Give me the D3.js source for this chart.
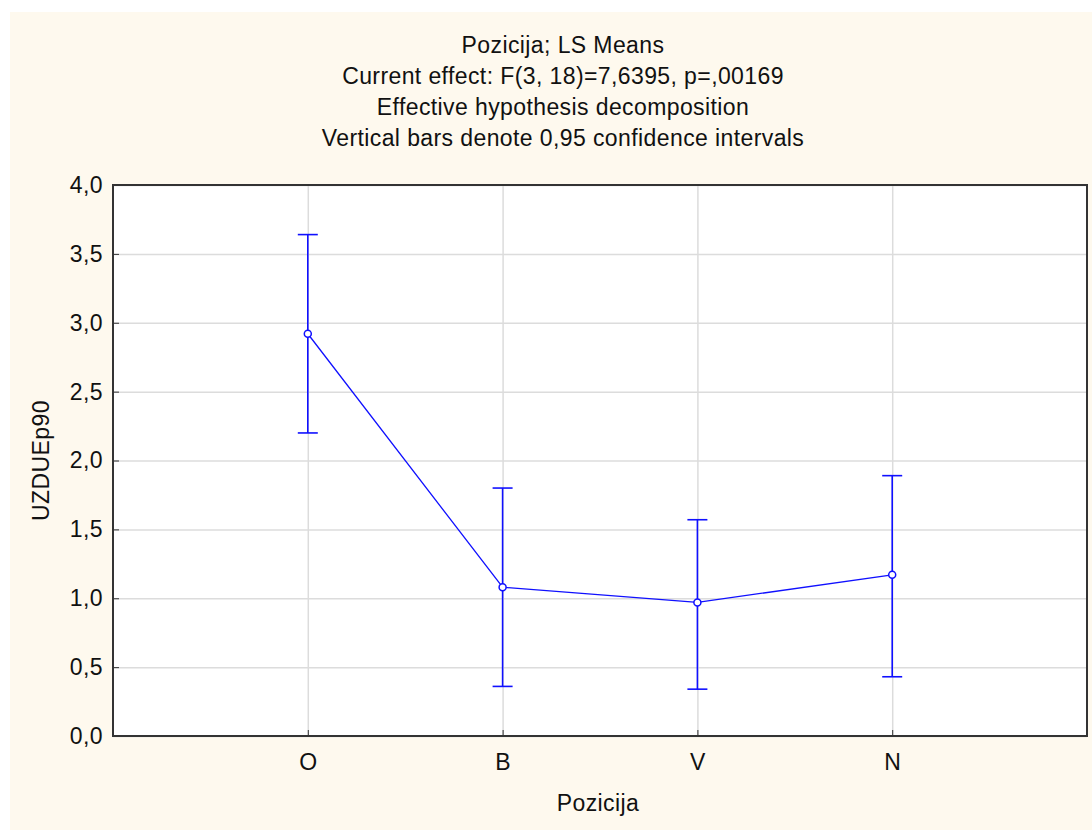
<!DOCTYPE html>
<html>
<head>
<meta charset="utf-8">
<script src="https://cdn.jsdelivr.net/npm/d3@7"></script>
<style>
 body { margin:0; background:#fff; }
 text { font-family: "Liberation Sans", Arial, sans-serif; fill:#111; letter-spacing:0.4px; }
</style>
</head>
<body>
<div id="chart"></div>
<script>
// categories and LS means with 95% CI
const categories = ['O','B','V','N'];
const means = [2.92, 1.08, 0.97, 1.17];
const lower = [2.20, 0.36, 0.34, 0.43];
const upper = [3.64, 1.80, 1.57, 1.89];
const yTicks = [0,0.5,1,1.5,2,2.5,3,3.5,4];
const titleLines = ['Pozicija; LS Means',
                    'Current effect: F(3, 18)=7,6395, p=,00169',
                    'Effective hypothesis decomposition',
                    'Vertical bars denote 0,95 confidence intervals'];

const width = 1092, height = 830;
const margin = {top:185, right:5, bottom:94, left:113};
const visWidth = width - margin.left - margin.right;
const visHeight = height - margin.top - margin.bottom;
const fontSize = '23px';

const data = categories.map((c,i)=>({cat:c, pos:i+1, mean:means[i], lo:lower[i], hi:upper[i]}));

const svg = d3.select('#chart').append('svg')
    .attr('width', width)
    .attr('height', height);

// cream background, leaving the thin white margin at top/left
svg.append('rect')
    .attr('x',10).attr('y',12)
    .attr('width',width-10).attr('height',height-12)
    .attr('fill','#fef9ee');

// title block (centred a bit left of the plot, like the original)
const title = svg.append('g')
    .attr('transform','translate(563,0)');
title.selectAll('text')
    .data(titleLines)
    .join('text')
    .attr('y',(d,i)=>53+i*31)
    .attr('text-anchor','middle')
    .style('font-size',fontSize)
    .text(d=>d);

const container = svg.append('g')
    .attr('transform',`translate(${margin.left},${margin.top})`);

container.append('rect')
    .attr('width',visWidth)
    .attr('height',visHeight)
    .attr('fill','#fff');

const xScale = d3.scaleLinear()
    .domain([0, categories.length+1])
    .range([0, visWidth]);

const yScale = d3.scaleLinear()
    .domain([0,4])
    .range([visHeight,0]);

// grid lines
container.append('g')
    .attr('class','sub-grid-y')
    .call(d3.axisLeft(yScale).tickValues(yTicks).tickSize(-visWidth).tickFormat(''))
    .call(g=>g.select('.domain').remove())
    .selectAll('line')
    .attr('stroke','#dcdcdc')
    .attr('stroke-width',1.5);

container.append('g')
    .attr('class','sub-grid-x')
    .attr('transform',`translate(0,${visHeight})`)
    .call(d3.axisBottom(xScale).tickValues(data.map(d=>d.pos)).tickSize(-visHeight).tickFormat(''))
    .call(g=>g.select('.domain').remove())
    .selectAll('line')
    .attr('stroke','#dcdcdc')
    .attr('stroke-width',1.5);

// axes with short inside ticks
const yAxis = container.append('g')
    .call(d3.axisLeft(yScale).tickValues(yTicks).tickSize(-6).tickPadding(10)
        .tickFormat(d=>d3.format('.1f')(d).replace('.',',')));
yAxis.select('.domain').remove();
yAxis.selectAll('line').attr('stroke','#333');
yAxis.selectAll('text').style('font-size',fontSize).style('font-family','"Liberation Sans", Arial, sans-serif').attr('fill','#111');

const xAxis = container.append('g')
    .attr('transform',`translate(0,${visHeight})`)
    .call(d3.axisBottom(xScale).tickValues(data.map(d=>d.pos)).tickSize(-6).tickPadding(18)
        .tickFormat(d=>categories[d-1]));
xAxis.select('.domain').remove();
xAxis.selectAll('line').attr('stroke','#333');
xAxis.selectAll('text').style('font-size',fontSize).style('font-family','"Liberation Sans", Arial, sans-serif').attr('fill','#111');

// plot frame
container.append('rect')
    .attr('width',visWidth)
    .attr('height',visHeight)
    .attr('fill','none')
    .attr('stroke','#333')
    .attr('stroke-width',2);

// axis titles
svg.append('text')
    .attr('x',598)
    .attr('y',811)
    .attr('text-anchor','middle')
    .style('font-size',fontSize)
    .text('Pozicija');

svg.append('text')
    .attr('transform',`translate(49,${margin.top+visHeight/2}) rotate(-90)`)
    .attr('text-anchor','middle')
    .style('font-size',fontSize)
    .text('UZDUEp90');

// error bars
const bars = container.append('g').attr('class','ci-bars');
bars.selectAll('line.stem')
    .data(data)
    .join('line')
    .attr('class','stem')
    .attr('x1',d=>xScale(d.pos)).attr('x2',d=>xScale(d.pos))
    .attr('y1',d=>yScale(d.lo)).attr('y2',d=>yScale(d.hi))
    .attr('stroke','#1010ff')
    .attr('stroke-width',1.6);
bars.selectAll('line.cap-hi')
    .data(data)
    .join('line')
    .attr('class','cap-hi')
    .attr('x1',d=>xScale(d.pos)-10).attr('x2',d=>xScale(d.pos)+10)
    .attr('y1',d=>yScale(d.hi)).attr('y2',d=>yScale(d.hi))
    .attr('stroke','#1010ff')
    .attr('stroke-width',1.6);
bars.selectAll('line.cap-lo')
    .data(data)
    .join('line')
    .attr('class','cap-lo')
    .attr('x1',d=>xScale(d.pos)-10).attr('x2',d=>xScale(d.pos)+10)
    .attr('y1',d=>yScale(d.lo)).attr('y2',d=>yScale(d.lo))
    .attr('stroke','#1010ff')
    .attr('stroke-width',1.6);

// mean line
const line = d3.line()
    .x(d=>xScale(d.pos))
    .y(d=>yScale(d.mean));

container.append('path')
    .datum(data)
    .attr('fill','none')
    .attr('stroke','#1010ff')
    .attr('stroke-width',1.3)
    .attr('d',line);

container.append('g')
    .selectAll('circle')
    .data(data)
    .join('circle')
    .attr('cx',d=>xScale(d.pos))
    .attr('cy',d=>yScale(d.mean))
    .attr('r',3.5)
    .attr('fill','#fff')
    .attr('stroke','#1010ff')
    .attr('stroke-width',1.5);
</script>
</body>
</html>
